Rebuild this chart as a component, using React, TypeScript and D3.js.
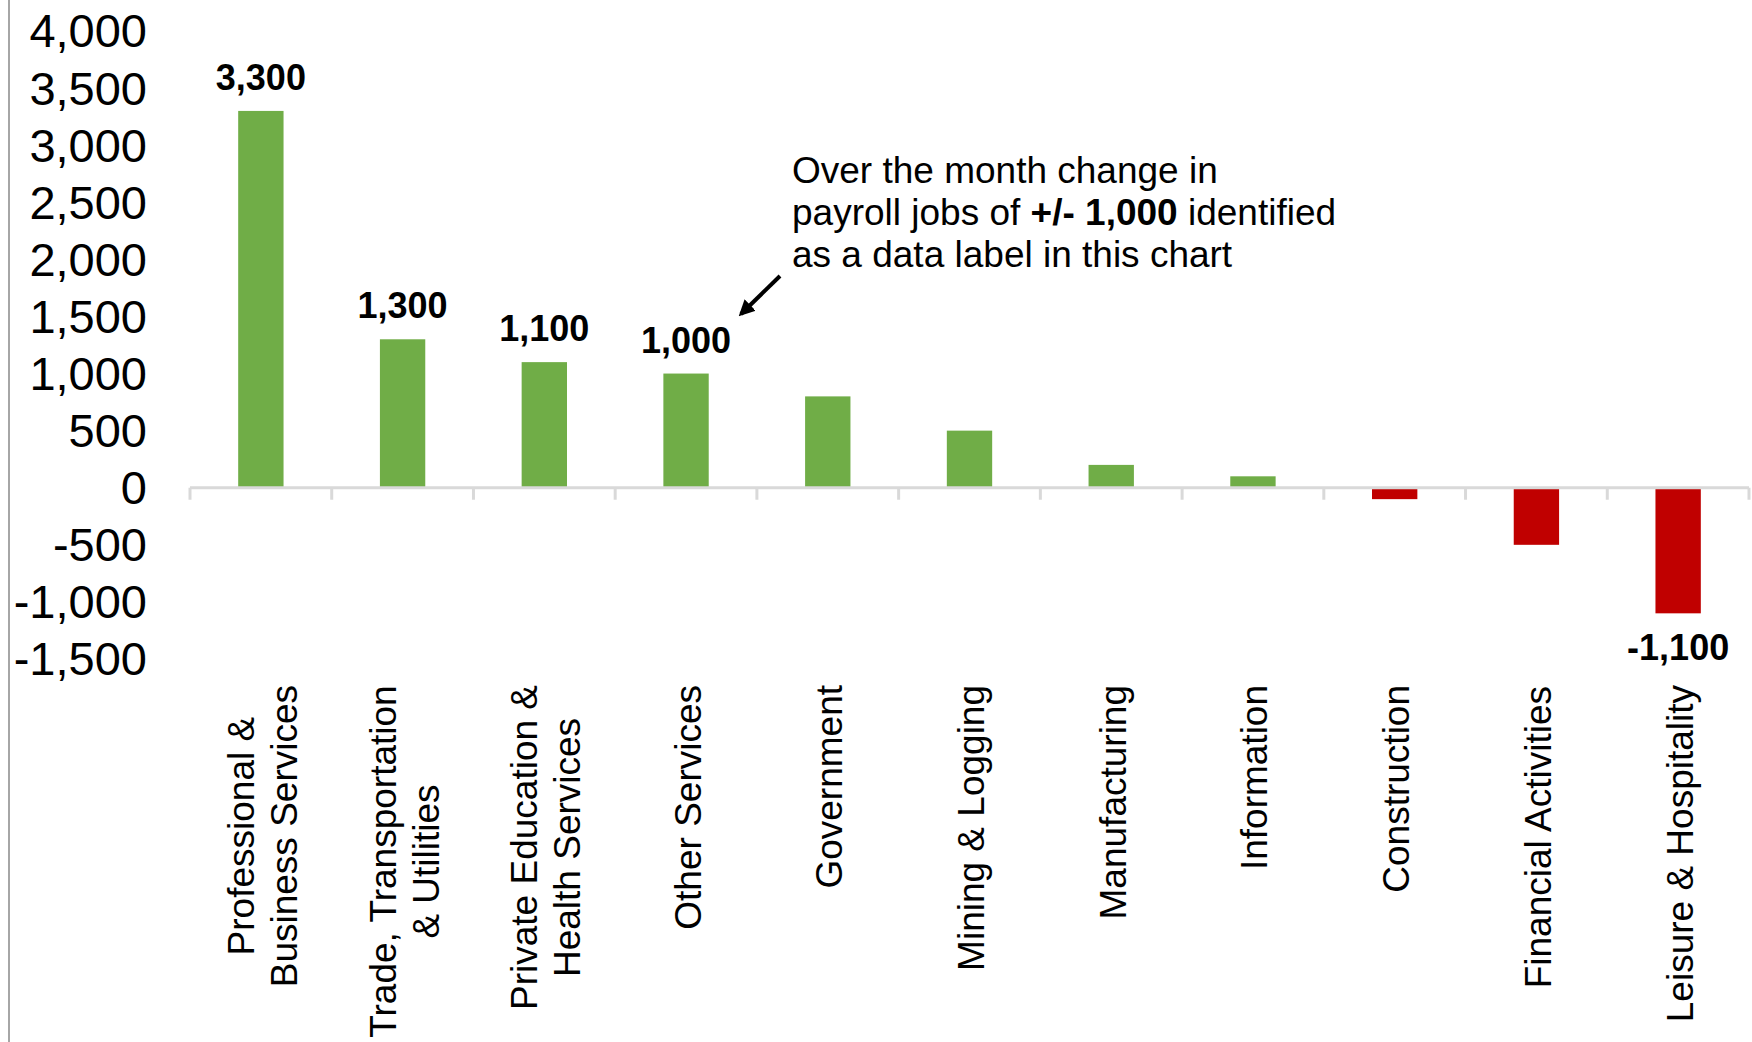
import React, { useMemo } from 'react'
import * as d3 from 'd3'

const width = 1752
const height = 1042

// industry categories, each label split into its lines
const categories = [
  'Professional & Business Services',
  'Trade, Transportation & Utilities',
  'Private Education & Health Services',
  'Other Services',
  'Government',
  'Mining & Logging',
  'Manufacturing',
  'Information',
  'Construction',
  'Financial Activities',
  'Leisure & Hospitality',
]
const categoryLines = [
  ['Professional &', 'Business Services'],
  ['Trade, Transportation', '& Utilities'],
  ['Private Education &', 'Health Services'],
  ['Other Services'],
  ['Government'],
  ['Mining & Logging'],
  ['Manufacturing'],
  ['Information'],
  ['Construction'],
  ['Financial Activities'],
  ['Leisure & Hospitality'],
]
const jobChange = [3300, 1300, 1100, 1000, 800, 500, 200, 100, -100, -500, -1100]
const yTicks = [-1500, -1000, -500, 0, 500, 1000, 1500, 2000, 2500, 3000, 3500, 4000]

const FONT = '"Liberation Sans", Arial, Helvetica, sans-serif'
const GREEN = '#70ad47'
const RED = '#c00000'

const fmt = d3.formatLocale({ decimal: '.', thousands: ',', grouping: [3], currency: ['$', ''], minus: '-' }).format(',')

const margin = { left: 190, right: 3, top: 31, bottom: 383 }
const catFont = 37
const lineGap = 43

function measure(text: string, font: string) {
  const ctx = document.createElement('canvas').getContext('2d')
  if (!ctx) return text.length * catFont * 0.5
  ctx.font = font
  return ctx.measureText(text).width
}

export default function App() {
  const x = useMemo(
    () => d3.scaleBand<string>().domain(categories).range([margin.left, width - margin.right]).padding(0),
    []
  )
  const y = useMemo(
    () => d3.scaleLinear().domain([-1500, 4000]).range([height - margin.bottom, margin.top]),
    []
  )
  const step = x.bandwidth()
  const barW = step * 0.32
  const y0 = y(0)

  const labelWidths = useMemo(
    () => categoryLines.map(lines => Math.max(...lines.map(l => measure(l, `${catFont}px ${FONT}`)))),
    []
  )

  return (
    <svg width={width} height={height} style={{ position: 'absolute', left: 0, top: 0, display: 'block', background: '#fff' }}
      fontFamily={FONT}>
      <line x1={9} x2={9} y1={0} y2={height} stroke="#a6a6a6" strokeWidth={2} />

      {/* y axis labels */}
      {yTicks.map(t => (
        <text key={t} x={147} y={y(t)} dy="0.35em" textAnchor="end" fontSize={47} fill="#000">{fmt(t)}</text>
      ))}

      {/* bars */}
      {categories.map((c, i) => {
        const v = jobChange[i]
        return (
          <rect key={c}
            x={x(c)! + (step - barW) / 2}
            width={barW}
            y={Math.min(y(v), y0)}
            height={Math.abs(y(v) - y0)}
            fill={v >= 0 ? GREEN : RED} />
        )
      })}

      {/* category axis */}
      <line x1={margin.left} x2={width - margin.right} y1={y0} y2={y0} stroke="#d9d9d9" strokeWidth={3} />
      {[...categories.map(c => x(c)!), x.range()[1]].map((tx, i) => (
        <line key={i} x1={tx} x2={tx} y1={y0} y2={y0 + 12} stroke="#d9d9d9" strokeWidth={3} />
      ))}

      {/* data labels for changes of +/- 1,000 */}
      {categories.map((c, i) => {
        const v = jobChange[i]
        if (Math.abs(v) < 1000) return null
        const cx = x(c)! + step / 2
        return (
          <text key={c} x={cx} y={v >= 0 ? y(v) - 21 : y(v) + 47} textAnchor="middle"
            fontSize={36} fontWeight="bold" fill="#000">{fmt(v)}</text>
        )
      })}

      {/* rotated category labels */}
      {categories.map((c, i) => {
        const cx = x(c)! + step / 2
        const lines = categoryLines[i]
        const offset = -((lines.length - 1) * lineGap) / 2 + 13.5
        return (
          <g key={c} transform={`translate(${cx},685) rotate(-90)`}>
            {lines.map((l, j) => (
              <text key={j} x={-labelWidths[i] / 2} y={offset + j * lineGap + 1} textAnchor="middle"
                fontSize={catFont} fill="#000">{l}</text>
            ))}
          </g>
        )
      })}

      {/* annotation */}
      <g fontSize={37} fill="#000">
        <text x={792} y={183}>Over the month change in</text>
        <text x={792} y={225}>payroll jobs of <tspan fontWeight="bold">+/- 1,000</tspan> identified</text>
        <text x={792} y={267}>as a data label in this chart</text>
      </g>
      <defs>
        <marker id="arrowhead" viewBox="0 0 10 10" refX={8} refY={5} markerWidth={4} markerHeight={4} orient="auto">
          <path d="M0,0 L10,5 L0,10 z" fill="#000" />
        </marker>
      </defs>
      <line x1={780} y1={276} x2={741} y2={314} stroke="#000" strokeWidth={4} markerEnd="url(#arrowhead)" />
    </svg>
  )
}
